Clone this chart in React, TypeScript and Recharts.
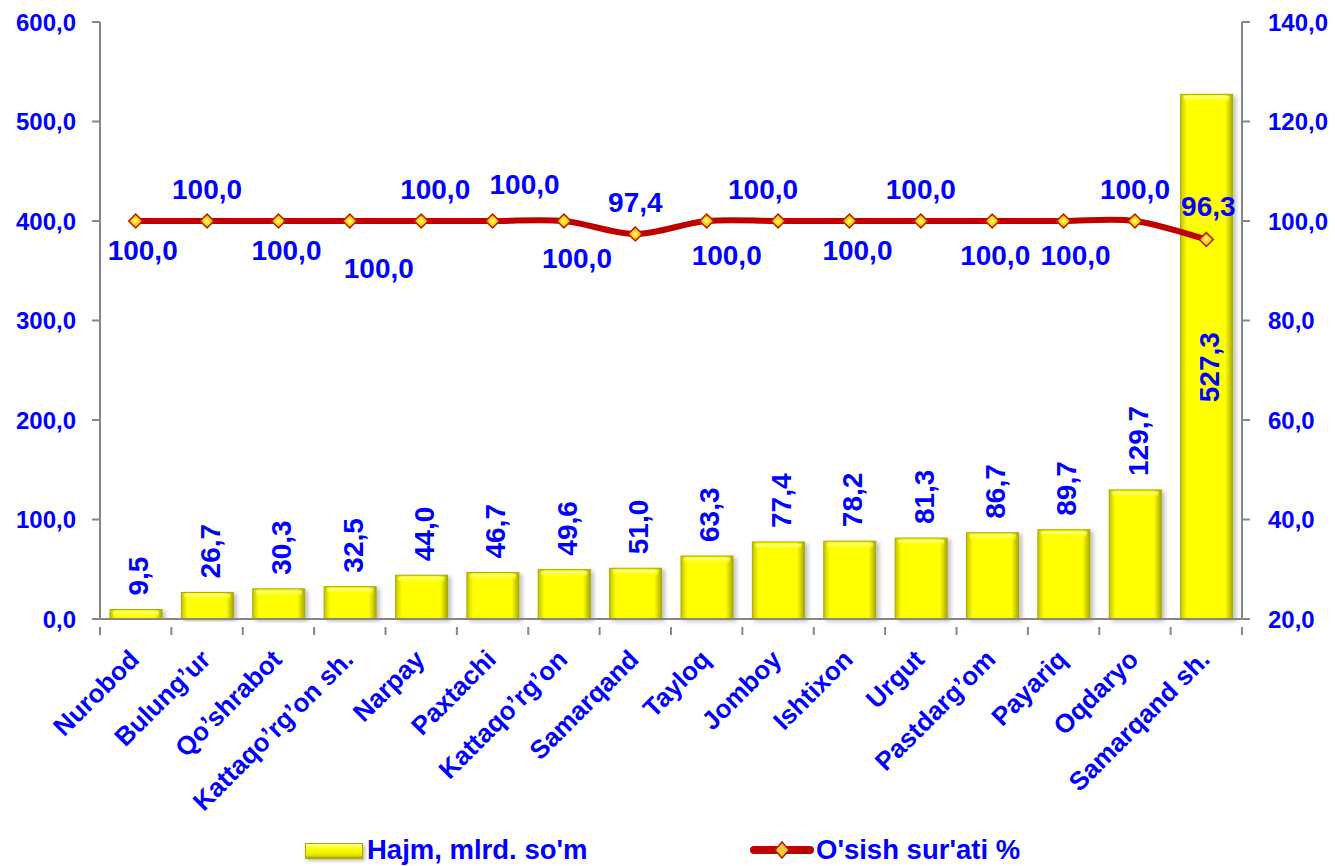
import { ComposedChart, Bar, Line, XAxis, YAxis, Legend, LabelList } from 'recharts';

const categories = [
  'Nurobod', 'Bulung’ur', 'Qo’shrabot', 'Kattaqo’rg’on sh.', 'Narpay', 'Paxtachi',
  'Kattaqo’rg’on', 'Samarqand', 'Tayloq', 'Jomboy', 'Ishtixon', 'Urgut',
  'Pastdarg’om', 'Payariq', 'Oqdaryo', 'Samarqand sh.',
];
const volume = [9.5, 26.7, 30.3, 32.5, 44.0, 46.7, 49.6, 51.0, 63.3, 77.4, 78.2, 81.3, 86.7, 89.7, 129.7, 527.3];
const growth = [100, 100, 100, 100, 100, 100, 100, 97.4, 100, 100, 100, 100, 100, 100, 100, 96.3];
const leftTicks = [0, 100, 200, 300, 400, 500, 600];
const rightTicks = [20, 40, 60, 80, 100, 120, 140];

const volumeName = "Hajm, mlrd. so'm";
const growthName = "O'sish sur'ati %";

// label nudges for the growth line, [dx, dy] from the point
const lineLabelNudge = [
  [7, 29], [0, -32], [8, 29], [29, 47], [14, -32], [32, -37], [13, 37], [0, -31],
  [20, 34], [-15, -32], [8, 29], [0, -32], [3, 34], [12, 34], [0, -32], [2, -33],
];

const data = categories.map((name, i) => ({ name, volume: volume[i], growth: growth[i] }));

const FONT = '"Liberation Sans", Arial, sans-serif';
const BLUE = '#0000ff';
const fmt = (v: number) => v.toFixed(1).replace('.', ',');
const BAND = 1142 / categories.length;

// Catmull-Rom style smoothing, like Excel's smoothed line
const smoothCurve = (context: any) => {
  let pts: number[][] = [];
  return {
    areaStart() {},
    areaEnd() {},
    lineStart() { pts = []; },
    point(x: number, y: number) { pts.push([x, y]); },
    lineEnd() {
      if (!pts.length) return;
      context.moveTo(pts[0][0], pts[0][1]);
      const t = 1 / 6;
      for (let i = 0; i < pts.length - 1; i++) {
        const p0 = pts[i - 1] || pts[i];
        const p1 = pts[i];
        const p2 = pts[i + 1];
        const p3 = pts[i + 2] || p2;
        context.bezierCurveTo(
          p1[0] + (p2[0] - p0[0]) * t, p1[1] + (p2[1] - p0[1]) * t,
          p2[0] - (p3[0] - p1[0]) * t, p2[1] - (p3[1] - p1[1]) * t,
          p2[0], p2[1],
        );
      }
    },
  };
};

const CategoryTick = (props: any) => {
  const { x, y, payload, index } = props;
  const isLast = index === categories.length - 1;
  return (
    <g>
      <line x1={x - BAND / 2} y1={y} x2={x - BAND / 2} y2={y + 8} stroke="#868686" strokeWidth={2} />
      {isLast && <line x1={x + BAND / 2} y1={y} x2={x + BAND / 2} y2={y + 8} stroke="#868686" strokeWidth={2} />}
      <text
        x={x + 5}
        y={y + 34}
        textAnchor="end"
        transform={`rotate(-45, ${x + 5}, ${y + 34})`}
        fill={BLUE}
        fontFamily={FONT}
        fontWeight="bold"
        fontSize={26}
      >
        {payload.value}
      </text>
    </g>
  );
};

const BarShape = (props: any) => {
  const { x, y, width, height } = props;
  if (!height || height <= 0) return null;
  return (
    <g filter="url(#barShadow)">
      <rect x={x} y={y} width={width} height={height} fill="url(#barGrad)" stroke="#a9a900" strokeWidth={1} />
      <rect x={x + 3} y={y + 2} width={width - 6} height={Math.min(6, height - 3)} fill="url(#barTop)" />
    </g>
  );
};

const Diamond = (props: any) => {
  const { cx, cy } = props;
  if (cx == null || cy == null) return null;
  const r = 7;
  return (
    <polygon
      points={`${cx},${cy - r} ${cx + r},${cy} ${cx},${cy + r} ${cx - r},${cy}`}
      fill="url(#dotGrad)"
      stroke="#b02000"
      strokeWidth={1.5}
    />
  );
};

const BarValueLabel = (props: any) => {
  const { x, y, width, height, index, value } = props;
  const cx = x + width / 2 + 3;
  if (index === categories.length - 1) {
    const cy = y + height * 0.52;
    return (
      <text x={cx} y={cy} textAnchor="middle" dominantBaseline="central"
        transform={`rotate(-90, ${cx}, ${cy})`}
        fill={BLUE} fontFamily={FONT} fontWeight="bold" fontSize={28}>
        {fmt(value)}
      </text>
    );
  }
  const ty = y - 14;
  return (
    <text x={cx} y={ty} textAnchor="start" dominantBaseline="central"
      transform={`rotate(-90, ${cx}, ${ty})`}
      fill={BLUE} fontFamily={FONT} fontWeight="bold" fontSize={28}>
      {fmt(value)}
    </text>
  );
};

const LineValueLabel = (props: any) => {
  const { x, y, index, value } = props;
  const [dx, dy] = lineLabelNudge[index] || [0, -30];
  return (
    <text x={x + dx} y={y + dy} textAnchor="middle" dominantBaseline="central"
      fill={BLUE} fontFamily={FONT} fontWeight="bold" fontSize={28}>
      {fmt(value)}
    </text>
  );
};

const renderLegend = () => (
  <div style={{ position: 'relative', width: 1335, height: 40, fontFamily: FONT, fontWeight: 'bold', fontSize: 27.5, color: BLUE }}>
    <div style={{
      position: 'absolute', left: 305, top: 17, width: 56, height: 14,
      background: 'linear-gradient(to bottom, #ffff99 0%, #ffff00 35%, #e6e600 80%, #a9a900 100%)',
      border: '1px solid #a9a900', boxShadow: '2px 2px 3px rgba(0,0,0,0.25)',
    }} />
    <span style={{ position: 'absolute', left: 367, top: 8, lineHeight: '32px', whiteSpace: 'nowrap' }}>{volumeName}</span>
    <svg style={{ position: 'absolute', left: 750, top: 14 }} width={64} height={20}>
      <line x1={4} y1={10} x2={60} y2={10} stroke="#c00000" strokeWidth={8} strokeLinecap="round" />
      <polygon points="32,2 39,10 32,18 25,10" fill="#ffcc33" stroke="#b02000" strokeWidth={1.5} />
    </svg>
    <span style={{ position: 'absolute', left: 816, top: 8, lineHeight: '32px', whiteSpace: 'nowrap' }}>{growthName}</span>
  </div>
);

const tickStyle = { fill: BLUE, fontFamily: FONT, fontWeight: 'bold', fontSize: 24 };

export default function App() {
  return (
    <div style={{ position: 'absolute', left: 0, top: 0, width: 1335, height: 866, background: '#fff' }}>
      <ComposedChart width={1335} height={866} data={data} margin={{ top: 22, right: 0, left: 0, bottom: 0 }}>
        <defs>
          <linearGradient id="barGrad" x1="0" y1="0" x2="1" y2="0">
            <stop offset="0%" stopColor="#c4c400" />
            <stop offset="12%" stopColor="#ffff00" />
            <stop offset="86%" stopColor="#ffff00" />
            <stop offset="100%" stopColor="#a9a900" />
          </linearGradient>
          <linearGradient id="barTop" x1="0" y1="0" x2="0" y2="1">
            <stop offset="0%" stopColor="#ffffb0" stopOpacity={0.9} />
            <stop offset="100%" stopColor="#ffff00" stopOpacity={0} />
          </linearGradient>
          <radialGradient id="dotGrad" cx="50%" cy="50%" r="50%">
            <stop offset="0%" stopColor="#ffff80" />
            <stop offset="60%" stopColor="#ffcc00" />
            <stop offset="100%" stopColor="#e06000" />
          </radialGradient>
          <filter id="barShadow" x="-20%" y="-5%" width="150%" height="115%">
            <feDropShadow dx="3" dy="2" stdDeviation="2" floodColor="#000" floodOpacity="0.25" />
          </filter>
        </defs>
        <XAxis
          dataKey="name"
          interval={0}
          height={207}
          tickLine={false}
          tick={<CategoryTick />}
          axisLine={{ stroke: '#868686', strokeWidth: 2 }}
        />
        <YAxis
          yAxisId="left"
          domain={[0, 600]}
          ticks={leftTicks}
          width={100}
          tickSize={8}
          tickMargin={16}
          tickFormatter={fmt}
          tick={tickStyle}
          axisLine={{ stroke: '#868686', strokeWidth: 2 }}
          tickLine={{ stroke: '#868686', strokeWidth: 2 }}
        />
        <YAxis
          yAxisId="right"
          orientation="right"
          domain={[20, 140]}
          ticks={rightTicks}
          width={93}
          tickSize={8}
          tickMargin={18}
          tickFormatter={fmt}
          tick={tickStyle}
          axisLine={{ stroke: '#868686', strokeWidth: 2 }}
          tickLine={{ stroke: '#868686', strokeWidth: 2 }}
        />
        <Legend verticalAlign="bottom" height={40} content={renderLegend} wrapperStyle={{ left: 0, width: 1335 }} />
        <Bar yAxisId="left" dataKey="volume" name={volumeName} barSize={52} shape={<BarShape />} isAnimationActive={false}>
          <LabelList dataKey="volume" content={<BarValueLabel />} />
        </Bar>
        <Line
          yAxisId="right"
          dataKey="growth"
          name={growthName}
          type={smoothCurve as any}
          stroke="#c00000"
          strokeWidth={6}
          dot={<Diamond />}
          activeDot={false}
          isAnimationActive={false}
        >
          <LabelList dataKey="growth" content={<LineValueLabel />} />
        </Line>
      </ComposedChart>
    </div>
  );
}
